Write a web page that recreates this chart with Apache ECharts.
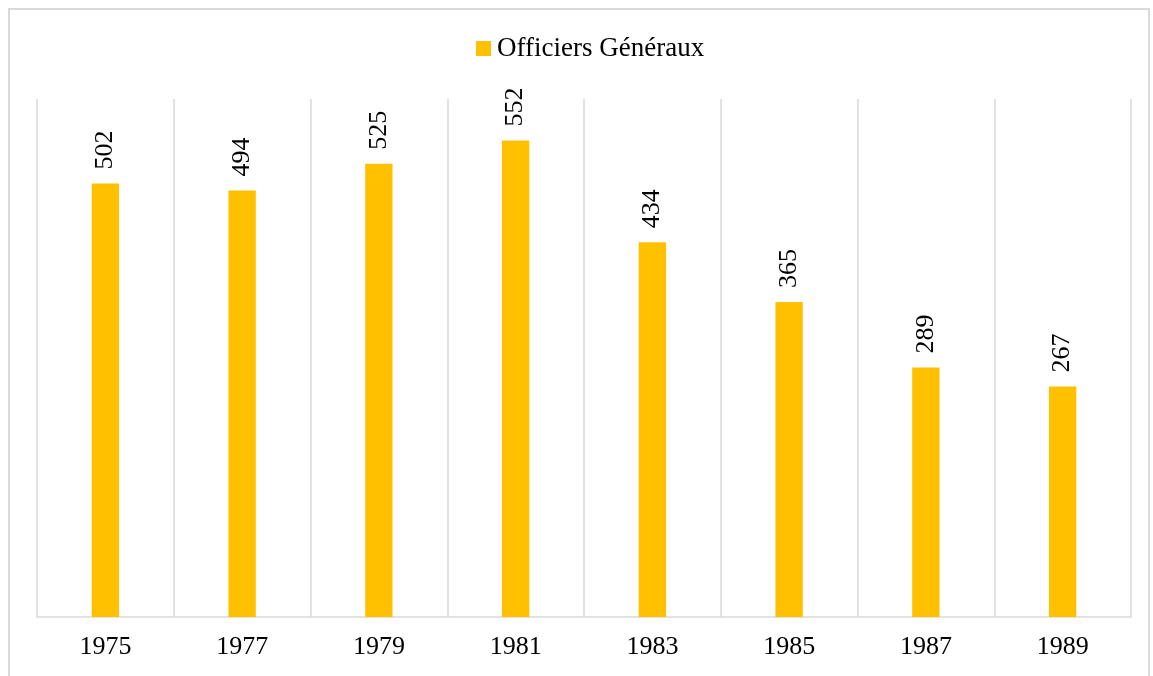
<!DOCTYPE html>
<html><head><meta charset="utf-8">
<script src="https://cdn.jsdelivr.net/npm/echarts@6/dist/echarts.min.js"></script>
<style>html,body{margin:0;padding:0;background:#fff}#c{width:1153px;height:676px}</style>
</head><body><div id="c"></div>
<script>
const categories = ['1975','1977','1979','1981','1983','1985','1987','1989'];
const seriesName = 'Officiers Généraux';
const values = [502, 494, 525, 552, 434, 365, 289, 267];
const font = '"Liberation Serif", "Times New Roman", serif';
const chart = echarts.init(document.getElementById('c'));
chart.setOption({
  animation: false,
  backgroundColor: '#fff',
  graphic: [{type:'rect', shape:{x:9, y:9, width:1140, height:700}, style:{fill:'none', stroke:'#d9d9d9', lineWidth:2}, silent:true}],
  legend: {top: 30, left: 471, icon: 'rect', itemWidth: 15, itemHeight: 15, itemGap: 4,
    textStyle: {fontFamily: font, fontSize: 27, color: '#000', padding: [0,0,0,1]}, data:[seriesName]},
  grid: {left: 37, right: 22, top: 99, bottom: 59},
  xAxis: {type:'category', data: categories, boundaryGap: true,
    axisLine:{lineStyle:{color:'#d9d9d9', width:1.5}}, axisTick:{show:false},
    splitLine:{show:true, lineStyle:{color:'#d9d9d9', width:1.5}},
    axisLabel:{fontFamily: font, fontSize: 26, color:'#000', margin: 17}},
  yAxis: {type:'value', min:0, max:600, show:false, splitLine:{show:false}},
  series: [{type:'bar', name: seriesName, data: values, barWidth: '20%',
    itemStyle:{color:'#FFC000'},
    label:{show:true, position:'top', rotate:90, align:'left', verticalAlign:'middle', distance: 14,
      fontFamily: font, fontSize: 26, color:'#000'}}]
});
</script></body></html>
